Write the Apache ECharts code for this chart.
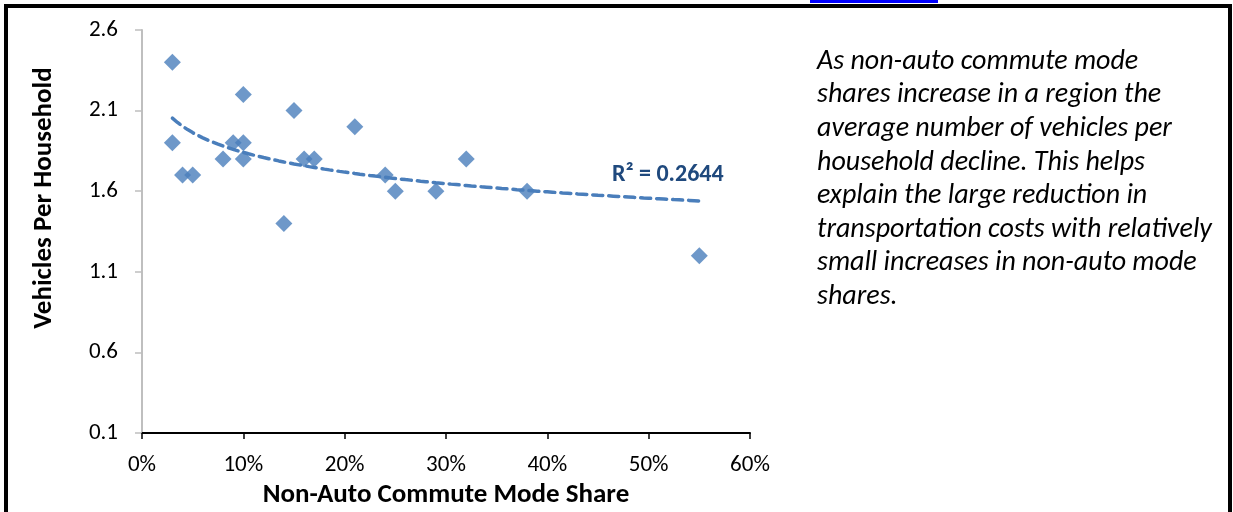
<!DOCTYPE html>
<html>
<head>
<meta charset="utf-8">
<script src="https://cdn.jsdelivr.net/npm/echarts@6/dist/echarts.min.js"></script>
<style>
html,body{margin:0;padding:0;background:#fff;}
#chart{width:1233px;height:512px;}
</style>
</head>
<body>
<div id="chart"></div>
<script>
// non-auto commute mode share (%) and vehicles per household
var modeShare = [3, 10, 15, 21, 3, 9, 10, 8, 10, 16, 17, 32, 4, 5, 24, 25, 29, 38, 14, 55];
var vehPerHh  = [2.4, 2.2, 2.1, 2.0, 1.9, 1.9, 1.9, 1.8, 1.8, 1.8, 1.8, 1.8, 1.7, 1.7, 1.7, 1.6, 1.6, 1.6, 1.4, 1.2];
var yTicks = [0.1, 0.6, 1.1, 1.6, 2.1, 2.6];
var r2Text = 'R² = 0.2644';
var noteLines = [
  'As non-auto commute mode',
  'shares increase in a region the',
  'average number of vehicles per',
  'household decline. This helps',
  'explain the large reduction in',
  'transportation costs with relatively',
  'small increases in non-auto mode',
  'shares.'
];

var FONT = 'Carlito, Lato, sans-serif';

// logarithmic trendline (least squares on ln x), like the excel one
function logFit(xs, ys) {
  var n = xs.length, sx = 0, sy = 0, sxx = 0, sxy = 0;
  for (var i = 0; i < n; i++) {
    var lx = Math.log(xs[i]);
    sx += lx; sy += ys[i]; sxx += lx * lx; sxy += lx * ys[i];
  }
  var a = (n * sxy - sx * sy) / (n * sxx - sx * sx);
  var b = (sy - a * sx) / n;
  return function (x) { return a * Math.log(x) + b; };
}

var points = [];
for (var i = 0; i < modeShare.length; i++) points.push([modeShare[i], vehPerHh[i]]);

var fit = logFit(modeShare, vehPerHh);
var xMin = Math.min.apply(null, modeShare), xMax = Math.max.apply(null, modeShare);
var trend = [];
for (var x = xMin; x <= xMax + 1e-9; x += 0.5) trend.push([x, fit(x)]);

var myChart = echarts.init(document.getElementById('chart'));
var option = {
  backgroundColor: '#fff',
  animation: false,
  grid: { left: 142, right: 483, top: 30, bottom: 79, outerBoundsMode: 'none', containLabel: false },
  xAxis: {
    type: 'value', min: 0, max: 60, interval: 10,
    axisLine: { lineStyle: { color: '#000', width: 2 } },
    axisTick: { show: true, length: 6, lineStyle: { color: '#000', width: 1.5 } },
    axisLabel: { formatter: '{value}%', color: '#000', fontSize: 23, fontFamily: FONT, margin: 21 },
    splitLine: { show: false },
    name: 'Non-Auto Commute Mode Share',
    nameLocation: 'middle', nameGap: 48,
    nameTextStyle: { color: '#000', fontSize: 27, fontWeight: 'bold', fontFamily: FONT }
  },
  yAxis: {
    type: 'value', min: 0.1, max: 2.6,
    axisLine: { show: true, lineStyle: { color: '#bfbfbf', width: 2 } },
    axisTick: { show: true, length: 7, customValues: yTicks, lineStyle: { color: '#bfbfbf', width: 1.5 } },
    axisLabel: {
      customValues: yTicks, color: '#000', fontSize: 23, fontFamily: FONT, margin: 24,
      formatter: function (v) { return v.toFixed(1); }
    },
    splitLine: { show: false }
  },
  series: [
    {
      type: 'scatter', data: points, symbol: 'diamond', symbolSize: 17,
      itemStyle: { color: '#4a7ebb' }, z: 2
    },
    {
      type: 'line', data: trend, showSymbol: false, smooth: false,
      lineStyle: { color: '#4a7ebb', width: 3.5, type: [10, 6], cap: 'round' },
      z: 3, silent: true
    }
  ],
  graphic: [
    { type: 'rect', shape: { x: 4, y: 4, width: 1227, height: 4 }, style: { fill: '#000' } },
    { type: 'rect', shape: { x: 4, y: 4, width: 4, height: 508 }, style: { fill: '#000' } },
    { type: 'rect', shape: { x: 1228, y: 4, width: 4, height: 508 }, style: { fill: '#000' } },
    { type: 'rect', shape: { x: 810, y: 0, width: 128, height: 3 }, style: { fill: '#0000ff' } },
    {
      type: 'text', x: 44, y: 198, rotation: Math.PI / 2,
      style: { text: 'Vehicles Per Household', fill: '#000', font: 'bold 27px ' + FONT,
               textAlign: 'center', textVerticalAlign: 'middle' }
    },
    {
      type: 'text', x: 612, y: 175,
      style: { text: r2Text, fill: '#1f497d', font: 'bold 24px ' + FONT, textAlign: 'left', textVerticalAlign: 'middle' }
    },
    {
      type: 'text', x: 817, y: 45,
      style: { text: noteLines.join('\n'), fill: '#000', font: 'italic 28px ' + FONT,
               lineHeight: 33.6, textAlign: 'left', textVerticalAlign: 'top' }
    }
  ]
};
myChart.setOption(option);
</script>
</body>
</html>
